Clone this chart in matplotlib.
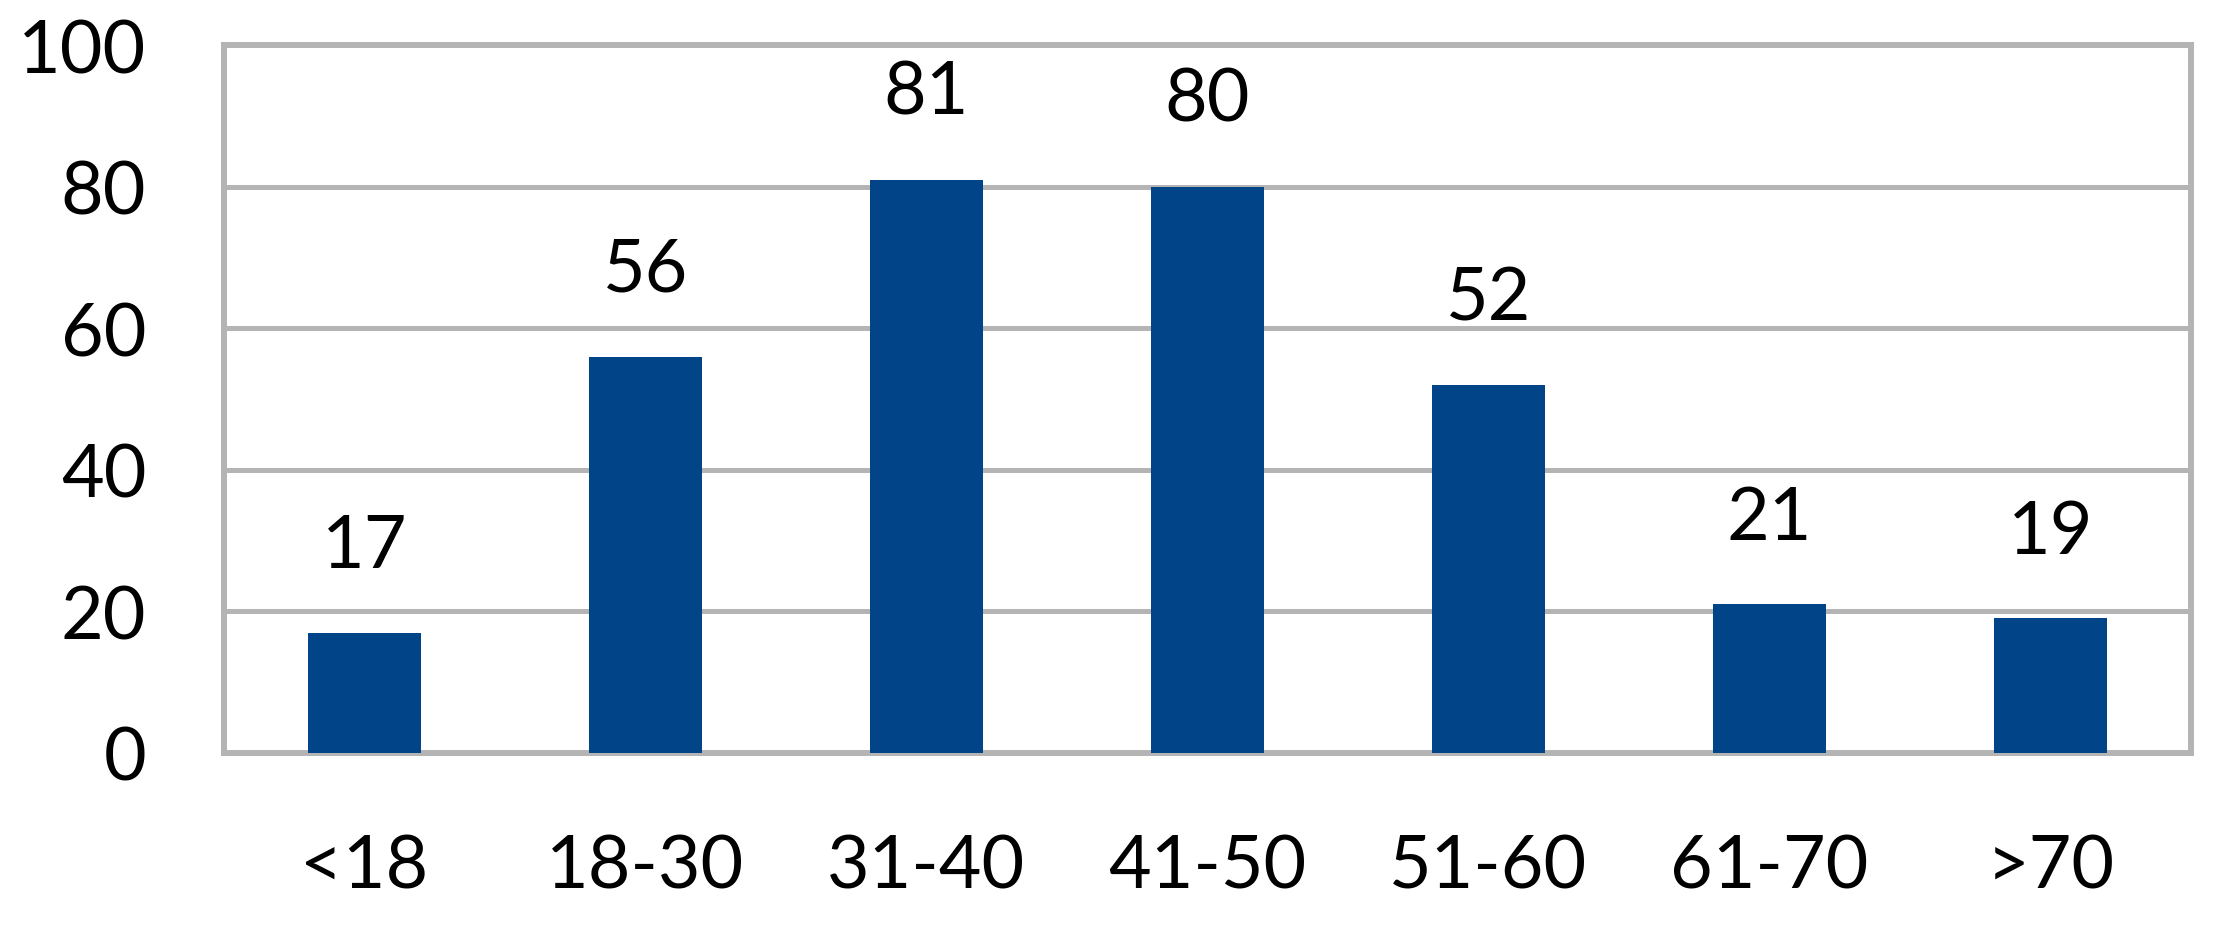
import matplotlib.pyplot as plt

# age groups and counts
groups = ["<18", "18-30", "31-40", "41-50", "51-60", "61-70", ">70"]
counts = [17, 56, 81, 80, 52, 21, 19]

plt.rcParams['font.family'] = ['Lato', 'DejaVu Sans']

fig = plt.figure(figsize=(22.22, 9.28), dpi=100)
ax = fig.add_axes([0.1008, 0.1875, 0.8852, 0.7629])

gray = '#b4b4b4'
ax.bar(range(len(groups)), counts, width=0.40, color='#024488', zorder=3)

for i, v in enumerate(counts):
    ax.annotate(str(v), (i, v), xytext=(0, 38), textcoords='offset points',
                ha='center', va='bottom', fontsize=53)

ax.set_xlim(-0.5, len(groups) - 0.5)
ax.set_ylim(0, 100)
ax.set_yticks([0, 20, 40, 60, 80, 100])
ax.set_xticks(range(len(groups)))
ax.set_xticklabels(groups)
ax.tick_params(axis='both', length=0, labelsize=53)
ax.tick_params(axis='y', pad=56)
ax.tick_params(axis='x', pad=58)
ax.yaxis.grid(True, color=gray, linewidth=3.6, zorder=1)
for s in ax.spines.values():
    s.set_color(gray)
    s.set_linewidth(4.3)

fig.savefig("out.png", dpi=100)
